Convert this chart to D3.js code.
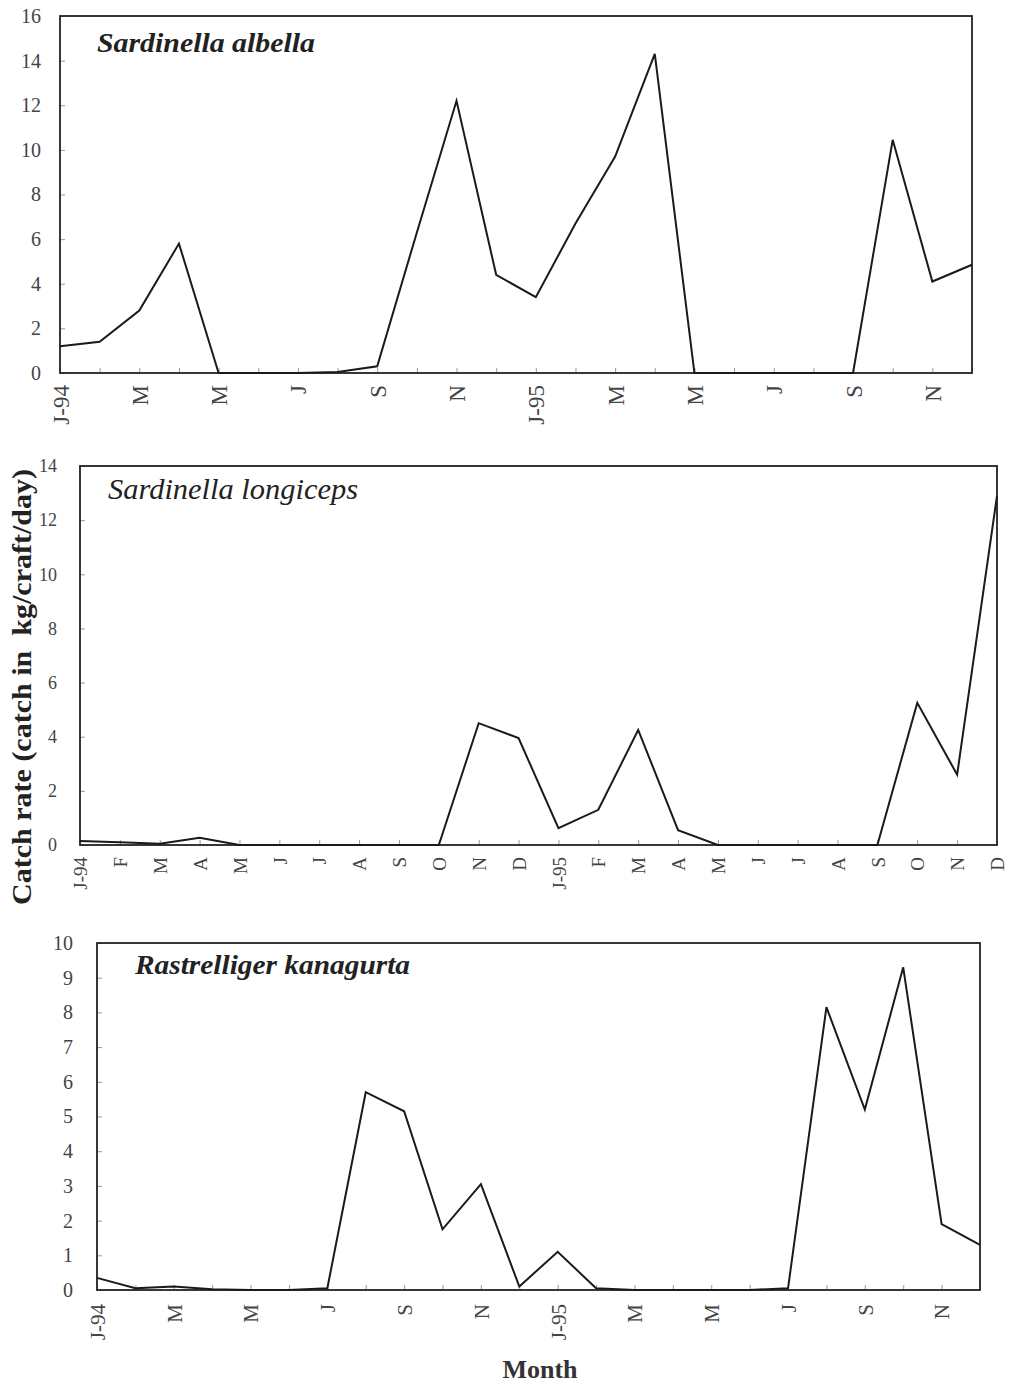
<!DOCTYPE html>
<html><head><meta charset="utf-8">
<script src="https://cdn.jsdelivr.net/npm/d3@7"></script>
<style>body{margin:0;background:#fff}</style>
</head><body>
<script>
const months = d3.range(24);
const labelsBiMonthly = ["J-94","M","M","J","S","N","J-95","M","M","J","S","N"];
const labelsMonthly = ["J-94","F","M","A","M","J","J","A","S","O","N","D","J-95","F","M","A","M","J","J","A","S","O","N","D"];
const albella = [1.2,1.4,2.8,5.8,0,0,0,0.05,0.3,6.3,12.2,4.4,3.4,6.7,9.7,14.3,0,0,0,0,0,10.45,4.1,4.85];
const longiceps = [0.15,0.1,0.05,0.27,0,0,0,0,0,0,4.5,3.95,0.62,1.3,4.25,0.55,0,0,0,0,0,5.25,2.6,12.9];
const kanagurta = [0.35,0.05,0.1,0.02,0,0,0.05,5.7,5.15,1.75,3.05,0.1,1.1,0.05,0,0,0,0,0.05,8.15,5.2,9.3,1.9,1.3];
const yMax1 = 16, yMax2 = 14, yMax3 = 10;
const yStep1 = 2, yStep2 = 2, yStep3 = 1;

const panels = [
  {title:"Sardinella albella", bold:true, values:albella, yMax:yMax1, step:yStep1, labels:labelsBiMonthly, every:2,
   l:60, r:972, t:16, b:373, tfs:27, tx:97, ty:52, tw:218, lfs:23, yfs:20, pad:19, lx:12},
  {title:"Sardinella longiceps", bold:false, values:longiceps, yMax:yMax2, step:yStep2, labels:labelsMonthly, every:1,
   l:80, r:997, t:466, b:845, tfs:29, tx:108, ty:499, tw:250, lfs:19, yfs:18, pad:23, lx:12},
  {title:"Rastrelliger kanagurta", bold:true, values:kanagurta, yMax:yMax3, step:yStep3, labels:labelsBiMonthly, every:2,
   l:97, r:980, t:943, b:1290, tfs:27, tx:135, ty:974, tw:275, lfs:21, yfs:20, pad:24, lx:14}
];

const W = 1009, H = 1385;
const svg = d3.select("body").append("svg").attr("width",W).attr("height",H)
  .style("font-family","'Liberation Serif','DejaVu Serif',serif");

panels.forEach(p => {
  const x = d3.scalePoint().domain(months).range([p.l,p.r]);
  const y = d3.scaleLinear().domain([0,p.yMax]).range([p.b,p.t]);
  const g = svg.append("g");

  // y axis
  const ya = g.append("g").attr("transform",`translate(${p.l},0)`)
    .call(d3.axisLeft(y).tickValues(d3.range(0,p.yMax+0.001,p.step)).tickSize(-5).tickPadding(p.pad).tickFormat(d3.format("d")));
  ya.select(".domain").remove();
  ya.selectAll("line").attr("stroke","#999");
  ya.selectAll("text").attr("font-size",p.yfs).attr("fill","#444").attr("font-family","'Liberation Serif',serif");

  // x axis
  const xa = g.append("g").attr("transform",`translate(0,${p.b})`)
    .call(d3.axisBottom(x).tickSize(-5).tickFormat(i => i % p.every === 0 ? p.labels[i/p.every] : ""));
  xa.select(".domain").remove();
  xa.selectAll("line").attr("stroke","#999");
  xa.selectAll("text")
    .attr("font-size",p.lfs).attr("fill","#444").attr("font-family","'Liberation Serif',serif")
    .attr("transform","rotate(-90)")
    .attr("text-anchor","end").attr("dy","0.35em").attr("x",-p.lx).attr("y",0);

  // frame
  g.append("rect").attr("x",p.l).attr("y",p.t).attr("width",p.r-p.l).attr("height",p.b-p.t)
    .attr("fill","none").attr("stroke","#222").attr("stroke-width",1.8);

  // line
  g.append("path").datum(p.values)
    .attr("d", d3.line().x((d,i)=>x(i)).y(d=>y(d)))
    .attr("fill","none").attr("stroke","#1a1a1a").attr("stroke-width",2).attr("stroke-linejoin","miter");

  // title
  g.append("text").attr("x",p.tx).attr("y",p.ty).text(p.title)
    .attr("font-size",p.tfs).attr("font-style","italic").attr("font-weight",p.bold?"bold":"normal")
    .attr("textLength",p.tw).attr("lengthAdjust","spacingAndGlyphs")
    .attr("fill","#222");
});

svg.append("text").attr("transform","translate(31,687) rotate(-90)")
  .attr("text-anchor","middle").attr("font-size",27).attr("font-weight","bold").attr("fill","#222")
  .attr("textLength",436).attr("lengthAdjust","spacingAndGlyphs")
  .style("white-space","pre").text("Catch rate (catch in  kg/craft/day)");

svg.append("text").attr("x",540).attr("y",1378).attr("text-anchor","middle")
  .attr("font-size",26).attr("font-weight","bold").attr("fill","#333").text("Month");
</script>
</body></html>
